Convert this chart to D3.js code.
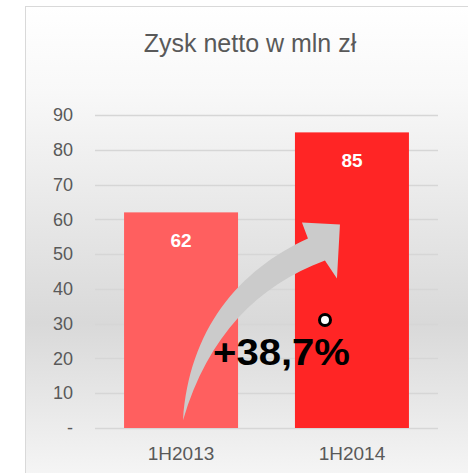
<!DOCTYPE html>
<html>
<head>
<meta charset="utf-8">
<script src="https://cdn.jsdelivr.net/npm/d3@7"></script>
<style>
  body { margin: 0; background: #fff; }
  svg { display: block; }
</style>
</head>
<body>
<div id="wrapper"></div>
<script>
// data
const categories = ['1H2013', '1H2014']
const profit = [62, 85]
const barColors = ['#ff5f5f', '#ff2525']
const yTicks = [0, 10, 20, 30, 40, 50, 60, 70, 80, 90]
const titleText = 'Zysk netto w mln zł'
const changeText = '+38,7%'

function drawChart() {
  const dimensions = {
    width: 468,
    height: 473,
    margin: { top: 115, right: 30, bottom: 45, left: 95 },
  }
  dimensions.boundedWidth = dimensions.width - dimensions.margin.left - dimensions.margin.right
  dimensions.boundedHeight = dimensions.height - dimensions.margin.top - dimensions.margin.bottom

  const wrapper = d3.select('#wrapper')
    .append('svg')
    .attr('width', dimensions.width)
    .attr('height', dimensions.height)

  // background panel
  const defs = wrapper.append('defs')
  const bg = defs.append('linearGradient')
    .attr('id', 'bg-gradient')
    .attr('x1', 0).attr('x2', 0).attr('y1', 0).attr('y2', 1)
  bg.selectAll('stop')
    .data([['0%', '#ffffff'], ['18%', '#f8f8f8'], ['66%', '#d9d9d9'], ['100%', '#f7f7f7']])
    .enter()
    .append('stop')
    .attr('offset', d => d[0])
    .attr('stop-color', d => d[1])

  wrapper.append('rect')
    .attr('x', 25.5)
    .attr('y', 6.5)
    .attr('width', 460)
    .attr('height', 480)
    .attr('fill', 'url(#bg-gradient)')
    .attr('stroke', '#d9d9d9')
    .attr('stroke-width', 1)

  wrapper.append('text')
    .attr('x', 250)
    .attr('y', 52)
    .attr('text-anchor', 'middle')
    .style('font-family', 'Liberation Sans, Arial, sans-serif')
    .style('font-size', '25px')
    .attr('fill', '#595959')
    .text(titleText)

  const bounds = wrapper.append('g')
    .attr('transform', `translate(${dimensions.margin.left},${dimensions.margin.top})`)

  // scales
  const xScale = d3.scaleBand()
    .domain(categories)
    .range([0, dimensions.boundedWidth])
    .paddingInner(0.333)
    .paddingOuter(0.17)

  const yScale = d3.scaleLinear()
    .domain([0, 90])
    .range([dimensions.boundedHeight, 0])

  // gridlines
  bounds.selectAll('.grid')
    .data(yTicks)
    .enter()
    .append('line')
    .attr('x1', 0)
    .attr('x2', dimensions.boundedWidth)
    .attr('y1', d => Math.round(yScale(d)) + 0.5)
    .attr('y2', d => Math.round(yScale(d)) + 0.5)
    .attr('stroke', '#d6d6d6')
    .attr('stroke-width', 1.5)

  // y axis labels
  const yAxis = d3.axisLeft(yScale)
    .tickValues(yTicks)
    .tickSize(0)
    .tickPadding(22)
    .tickFormat(d => d === 0 ? '-' : d)
  bounds.append('g')
    .call(yAxis)
    .call(g => g.select('.domain').remove())
    .selectAll('text')
    .attr('fill', '#595959')
    .style('font-family', 'Liberation Sans, Arial, sans-serif')
    .style('font-size', '18px')

  // bars
  const data = categories.map((c, i) => ({ category: c, value: profit[i], color: barColors[i] }))
  bounds.selectAll('.bar')
    .data(data)
    .enter()
    .append('rect')
    .attr('class', 'bar')
    .attr('x', d => xScale(d.category))
    .attr('y', d => yScale(d.value))
    .attr('width', xScale.bandwidth())
    .attr('height', d => yScale(0) - yScale(d.value))
    .attr('fill', d => d.color)

  bounds.selectAll('.bar-label')
    .data(data)
    .enter()
    .append('text')
    .attr('x', d => xScale(d.category) + xScale.bandwidth() / 2)
    .attr('y', d => yScale(d.value) + 35)
    .attr('text-anchor', 'middle')
    .attr('fill', '#ffffff')
    .style('font-family', 'Liberation Sans, Arial, sans-serif')
    .style('font-weight', 'bold')
    .style('font-size', '19px')
    .text(d => d.value)

  // x axis labels
  const xAxis = d3.axisBottom(xScale)
    .tickSize(0)
    .tickPadding(19)
  bounds.append('g')
    .attr('transform', `translate(0,${dimensions.boundedHeight})`)
    .call(xAxis)
    .call(g => g.select('.domain').remove())
    .selectAll('text')
    .attr('fill', '#595959')
    .style('font-family', 'Liberation Sans, Arial, sans-serif')
    .style('font-size', '19px')

  // growth arrow annotation
  const x0 = xScale(categories[0]) + xScale.bandwidth() / 2 + 2
  const y0 = yScale(2.2)
  const x1 = xScale(categories[1]) + 45
  const y1 = yScale(58.5)
  const arrow = d3.path()
  arrow.moveTo(x0, y0)
  arrow.bezierCurveTo(x0 + 6, y0 - 90, x0 + 55, y0 - 150, x1 - 32, y1 + 14)
  arrow.lineTo(x1 - 38, y1 - 2)
  arrow.lineTo(x1, y1)
  arrow.lineTo(x1 - 3, y1 + 54)
  arrow.lineTo(x1 - 15, y1 + 36)
  arrow.bezierCurveTo(x0 + 75, y0 - 135, x0 + 25, y0 - 85, x0, y0)
  arrow.closePath()
  bounds.append('path')
    .attr('d', arrow.toString())
    .attr('fill', '#cbcbcb')

  bounds.append('text')
    .attr('x', 213 - dimensions.margin.left)
    .attr('y', 365 - dimensions.margin.top)
    .attr('textLength', 137)
    .attr('lengthAdjust', 'spacingAndGlyphs')
    .attr('fill', '#000000')
    .style('font-family', 'Liberation Sans, Arial, sans-serif')
    .style('font-weight', 'bold')
    .style('font-size', '37px')
    .text(changeText)

  bounds.append('circle')
    .attr('cx', 325 - dimensions.margin.left)
    .attr('cy', 320 - dimensions.margin.top)
    .attr('r', 5.5)
    .attr('fill', '#ffffff')
    .attr('stroke', '#000000')
    .attr('stroke-width', 3)
}

drawChart()
</script>
</body>
</html>
